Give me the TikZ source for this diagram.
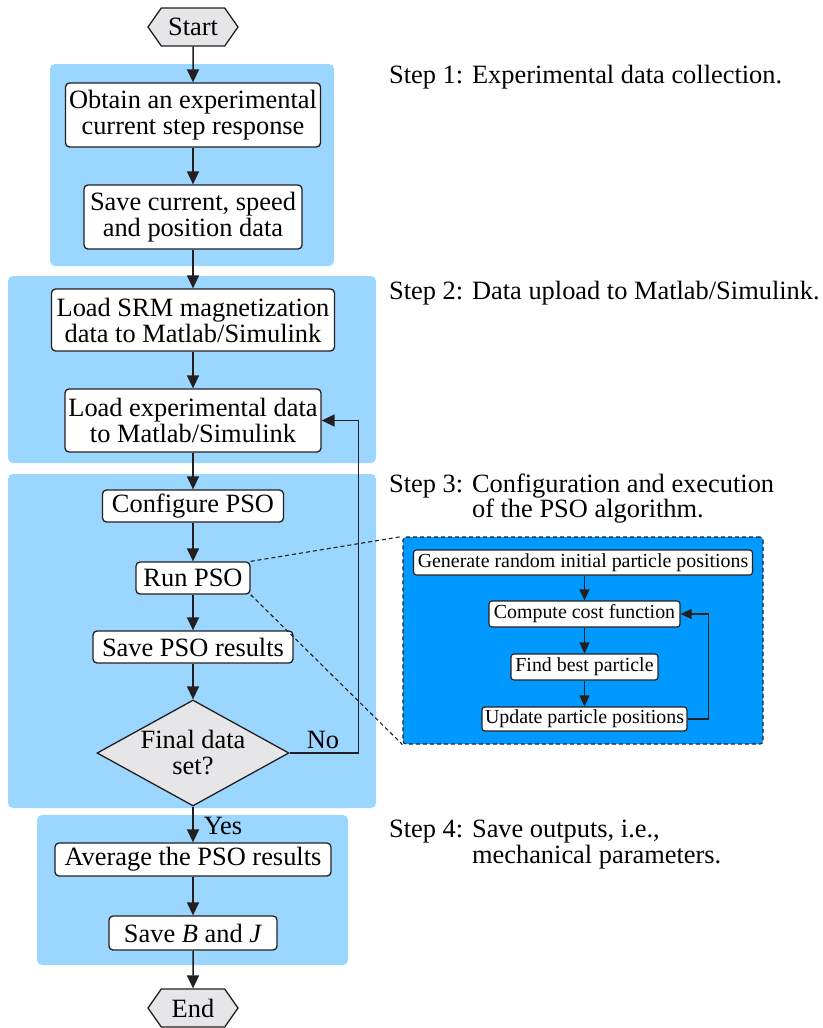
\documentclass[tikz,border=0pt]{standalone}
\usepackage{fontspec}
\setmainfont{Liberation Serif}
\usetikzlibrary{arrows.meta,shapes.geometric,shapes.symbols}

\definecolor{stepbg}{RGB}{155,214,255}
\definecolor{insetbg}{RGB}{0,153,255}
\definecolor{termgray}{RGB}{230,230,232}
\definecolor{ink}{RGB}{35,31,32}

\newcommand{\bigtext}{\fontsize{26.4}{26}\selectfont}
\newcommand{\smalltext}{\fontsize{19.9}{22}\selectfont}

\tikzset{
  stepregion/.style={fill=stepbg, draw=none, rounded corners=5pt},
  procbox/.style={draw=ink, fill=white, line width=1.3pt, rounded corners=4pt,
    align=center, inner sep=0pt, font=\bigtext},
  terminal/.style={shape=signal, signal to=west and east, signal pointer angle=110,
    draw=ink, fill=termgray, line width=1.3pt, minimum height=38pt, minimum width=90pt,
    inner xsep=2pt, inner ysep=0pt, font=\bigtext},
  decision/.style={diamond, draw=ink, fill=termgray, line width=1.3pt,
    minimum width=192pt, minimum height=106pt, inner sep=0pt},
  decisiontext/.style={align=center, inner sep=0pt, font=\bigtext},
  smallbox/.style={draw=ink, fill=white, line width=1.1pt, rounded corners=3pt,
    align=center, inner sep=0pt, font=\smalltext},
  flow/.style={draw=ink, line width=1.5pt, -{Triangle[length=13pt,width=12pt]}},
  smallflow/.style={draw=ink, line width=1.3pt, -{Triangle[length=11pt,width=10pt]}},
  steplabel/.style={anchor=base west, inner sep=0pt, font=\bigtext},
  edgelabel/.style={inner sep=0pt, font=\bigtext},
  zoomline/.style={draw=ink, line width=1.1pt, dash pattern=on 4pt off 3pt},
}

\begin{document}
\begin{tikzpicture}[x=1pt, y=-1pt]
  \useasboundingbox (0,0) rectangle (822,1028);

  % shaded step regions
  \fill[stepregion] (50,64) rectangle (334,266);
  \fill[stepregion] (8,276) rectangle (376,463);
  \fill[stepregion] (8,474) rectangle (376,808);
  \fill[stepregion] (37,815) rectangle (348,965);

  % main flow
  \node[terminal] (start) at (193,27) {Start};
  \node[procbox, minimum width=255pt, minimum height=64pt] (obtain) at (193,115)
    {Obtain an experimental\\current step response};
  \node[procbox, minimum width=218pt, minimum height=64pt] (savecur) at (193,217)
    {Save current, speed\\and position data};
  \node[procbox, minimum width=283pt, minimum height=62pt] (loadsrm) at (193,320)
    {Load SRM magnetization\\data to Matlab/Simulink};
  \node[procbox, minimum width=256pt, minimum height=63pt] (loadexp) at (193,420.5)
    {Load experimental data\\to Matlab/Simulink};
  \node[procbox, minimum width=181pt, minimum height=32pt] (config) at (193,506)
    {Configure PSO};
  \node[procbox, minimum width=114pt, minimum height=32pt] (run) at (193,578)
    {Run PSO};
  \node[procbox, minimum width=200pt, minimum height=32pt] (savepso) at (193,647)
    {Save PSO results};
  \node[decision] (final) at (193,753) {};
  \node[decisiontext] (finaltext) at (final.center) {Final data\\set?};
  \node[procbox, minimum width=276pt, minimum height=33pt] (avg) at (193,859.5)
    {Average the PSO results};
  \node[procbox, minimum width=168pt, minimum height=34pt] (savebj) at (193,933)
    {Save \textit{B} and \textit{J}};
  \node[terminal] (stop) at (193,1008) {End};

  \draw[flow] (start) -- (obtain);
  \draw[flow] (obtain) -- (savecur);
  \draw[flow] (savecur) -- (loadsrm);
  \draw[flow] (loadsrm) -- (loadexp);
  \draw[flow] (loadexp) -- (config);
  \draw[flow] (config) -- (run);
  \draw[flow] (run) -- (savepso);
  \draw[flow] (savepso) -- (final);
  \draw[flow] (final) -- (avg);
  \draw[flow] (avg) -- (savebj);
  \draw[flow] (savebj) -- (stop);
  \draw[flow] (final.east) -- ++(69,0) |- (loadexp.east);

  \node[edgelabel] at (323,740) {No};
  \node[edgelabel] at (223,826) {Yes};

  % PSO detail panel
  \node[draw=ink, fill=insetbg, line width=1.1pt, dash pattern=on 4pt off 3pt,
    rounded corners=3pt, minimum width=360pt, minimum height=207pt, inner sep=0pt]
    (panel) at (583,640.5) {};
  \node[smallbox, minimum width=339pt, minimum height=25pt] (gen) at (583,562.5)
    {Generate random initial particle positions};
  \node[smallbox, minimum width=191pt, minimum height=26pt] (cost) at (584.5,614)
    {Compute cost function};
  \node[smallbox, minimum width=147pt, minimum height=26pt] (best) at (584.5,667)
    {Find best particle};
  \node[smallbox, minimum width=205pt, minimum height=24pt] (upd) at (584.5,719)
    {Update particle positions};

  \draw[smallflow] (gen.south -| cost.north) -- (cost.north);
  \draw[smallflow] (cost) -- (best);
  \draw[smallflow] (best) -- (upd);
  \draw[smallflow] (upd.east) -- ++(21,0) |- (cost.east);

  \draw[zoomline] (run.north east) -- (panel.north west);
  \draw[zoomline] (run.south east) -- (panel.south west);

  % step descriptions
  \node[steplabel] (s1) at (389,83) {Step 1: Experimental data collection.};
  \node[steplabel] (s2) at (389,299) {Step 2: Data upload to Matlab/Simulink.};
  \node[steplabel] (s3a) at (389,492) {Step 3: Configuration and execution};
  \node[steplabel] (s3b) at (389,517) {\hphantom{Step 3: }of the PSO algorithm.};
  \node[steplabel] (s4a) at (389,837) {Step 4: Save outputs, i.e.,};
  \node[steplabel] (s4b) at (389,863) {\hphantom{Step 4: }mechanical parameters.};
\end{tikzpicture}
\end{document}
